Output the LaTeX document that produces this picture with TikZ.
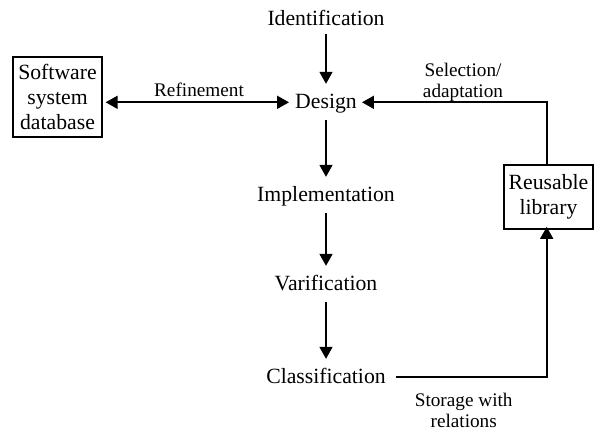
\documentclass[tikz,border=0pt]{standalone}
\usepackage{fontspec}
\setmainfont{Liberation Serif}
\usetikzlibrary{arrows.meta}
\tikzstyle{stage}=[anchor=base, inner xsep=4bp, inner ysep=4bp, text height=15bp, text depth=5bp, font=\fontsize{21.8}{25}\selectfont]
\tikzstyle{store}=[draw, line width=1.7bp, align=center, inner sep=2bp, font=\fontsize{21.8}{25}\selectfont]
\tikzstyle{flow}=[-{Triangle[length=12bp,width=13bp]}, line width=1.7bp, shorten <=3bp, shorten >=5bp]
\tikzstyle{link}=[-{Triangle[length=12bp,width=13bp]}, line width=1.7bp]
\tikzstyle{both}=[{Triangle[length=12bp,width=13bp]}-{Triangle[length=12bp,width=13bp]}, line width=1.7bp]
\tikzstyle{note}=[anchor=base, align=center, inner sep=0, font=\fontsize{19.3}{21}\selectfont]

\begin{document}
\begin{tikzpicture}[x=1bp, y=-1bp]
    \useasboundingbox (0, 0) rectangle (594, 432);
    \node[stage] (ident) at (326, 25) {Identification};
    \node[stage] (design) at (326, 108) {Design};
    \node[stage] (impl) at (326, 201) {Implementation};
    \node[stage] (verif) at (326, 290) {Varification};
    \node[stage] (classif) at (326, 383) {Classification};
    \node[store, minimum width=89.6bp, minimum height=79.4bp] (swdb) at (57.5, 97) {Software\\system\\database};
    \node[store, minimum width=89bp, minimum height=64bp] (lib) at (548.5, 197) {Reusable\\library};
    \coordinate (low) at (546.7, 376.7);
    \coordinate (high) at (546.7, 102.3);
    \draw[flow, shorten <=0bp] (ident.south) -- (design.north);
    \draw[flow] (design.south) -- (impl.north);
    \draw[flow] (impl.south) -- (verif.north);
    \draw[flow] (verif.south) -- (classif.north);
    \draw[both] ([xshift=2.5bp]swdb.east |- high) -- ([xshift=-2bp]design.west |- high);
    \draw[link] ([xshift=6bp]classif.east |- low) -- (low) -- ([yshift=3bp]lib.south -| low);
    \draw[link] (lib.north -| high) -- (high) -- ([xshift=1bp]design.east |- high);
    \node[note] (refine) at (199, 96.5) {Refinement};
    \node[note] (select) at (463, 97) {Selection/\\adaptation};
    \node[note] (storage) at (463.7, 427.5) {Storage with\\relations};
\end{tikzpicture}
\end{document}
